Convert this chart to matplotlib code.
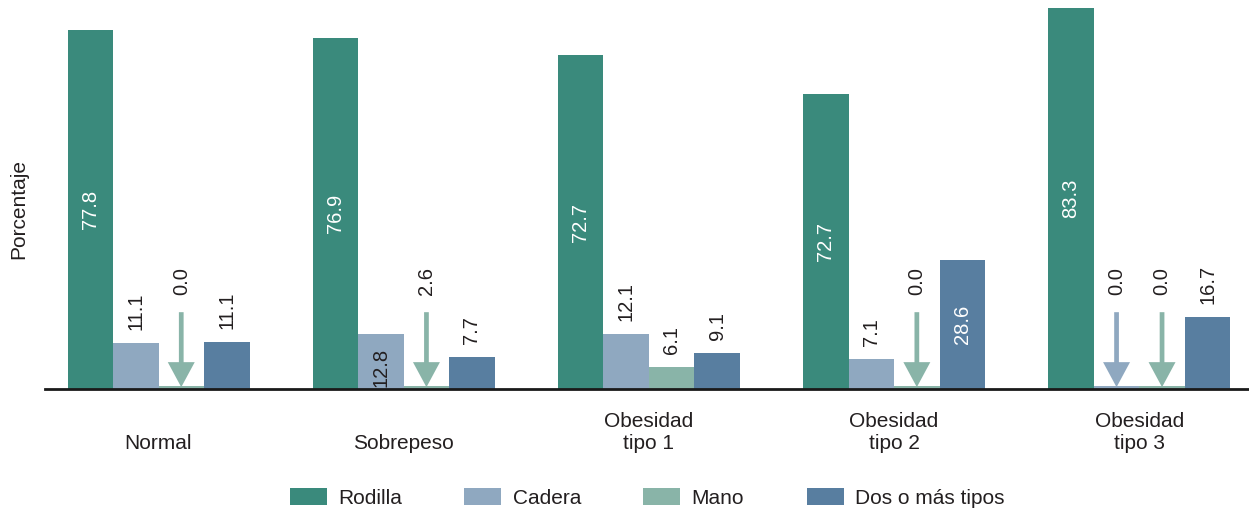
import matplotlib
matplotlib.use('Agg')
import matplotlib.pyplot as plt
from matplotlib.patches import Patch, FancyArrowPatch
import numpy as np

plt.rcParams['font.family'] = ['Liberation Sans', 'DejaVu Sans']

categories = ['Normal', 'Sobrepeso', 'Obesidad\ntipo 1', 'Obesidad\ntipo 2', 'Obesidad\ntipo 3']
series = ['Rodilla', 'Cadera', 'Mano', 'Dos o más tipos']

# bar heights as drawn in the picture (percent)
rodilla = [78.0, 76.3, 72.6, 64.1, 82.8]
cadera = [10.0, 12.0, 12.0, 6.5, 0.0]
mano = [0.0, 0.0, 4.8, 0.0, 0.0]
dos = [10.2, 7.0, 7.8, 28.0, 15.7]

# value labels as printed
rodilla_lbl = ['77.8', '76.9', '72.7', '72.7', '83.3']
cadera_lbl = ['11.1', '12.8', '12.1', '7.1', '0.0']
mano_lbl = ['0.0', '2.6', '6.1', '0.0', '0.0']
dos_lbl = ['11.1', '7.7', '9.1', '28.6', '16.7']

colors = ['#3a8a7c', '#8fa8c0', '#89b4a8', '#587ea0']
text_color = '#231f20'

heights = [rodilla, cadera, mano, dos]
labels = [rodilla_lbl, cadera_lbl, mano_lbl, dos_lbl]

W, H = 1249, 513
fig = plt.figure(figsize=(W / 100, H / 100), dpi=100)
px_per_unit = 4.6
base_px = 389
ax = fig.add_axes([45 / W, (H - base_px) / H, (W - 45) / W, base_px / H])
group_px = 245.2
xmin = -(158.5 - 45) / group_px
ax.set_xlim(xmin, xmin + (W - 45) / group_px)
ax.set_ylim(0, base_px / px_per_unit)
for s in ['top', 'right', 'left']:
    ax.spines[s].set_visible(False)
ax.spines['bottom'].set_linewidth(2.0)
ax.spines['bottom'].set_color('#1a1a1a')
ax.spines['bottom'].set_zorder(5)
ax.set_xticks([])
ax.set_yticks([])

x = np.arange(len(categories))
w = 45.5 / group_px
offsets = [-1.5 * w, -0.5 * w, 0.5 * w, 1.5 * w]
stub = 0.7
arrow_top = 16.7
label_gap = 2.8
vfs = 14.5

for si in range(4):
    hs = heights[si]
    drawn = [h if h >= 0.5 else stub for h in hs]
    ax.bar(x + offsets[si], drawn, w, color=colors[si], zorder=2, linewidth=0)
    for gi in range(len(categories)):
        xc = x[gi] + offsets[si]
        h = hs[gi]
        lbl = labels[si][gi]
        if h < 0.5:
            arr = FancyArrowPatch((xc, arrow_top), (xc, 0.4),
                                  arrowstyle='simple,head_length=0.9,head_width=0.97,tail_width=0.17',
                                  mutation_scale=20, shrinkA=0, shrinkB=0,
                                  color=colors[si], lw=0, zorder=3)
            ax.add_patch(arr)
            ax.text(xc, arrow_top + 3.8, lbl, rotation=90, ha='center', va='bottom',
                    fontsize=vfs, color=text_color)
        elif si == 0 or h > 20:
            ax.text(xc, h / 2, lbl, rotation=90, ha='center', va='center',
                    fontsize=vfs, color='white', zorder=4)
        elif si == 1 and gi == 1:
            ax.text(xc, 4.6, lbl, rotation=90, ha='center', va='center',
                    fontsize=vfs, color=text_color, zorder=4)
        else:
            ax.text(xc, h + label_gap, lbl, rotation=90, ha='center', va='bottom',
                    fontsize=vfs, color=text_color)

for gi, cat in enumerate(categories):
    ax.text(x[gi], -13.9, cat, ha='center', va='bottom', fontsize=15,
            color=text_color, linespacing=1.2, clip_on=False)

fig.text(19 / W, 1 - 209 / H, 'Porcentaje', rotation=90, ha='center', va='center',
         fontsize=15, color=text_color)

handles = [Patch(facecolor=c, edgecolor='none') for c in colors]
leg = fig.legend(handles, series, loc='center', bbox_to_anchor=(647 / W, 1 - 498 / H),
                 ncol=4, frameon=False, fontsize=15, handlelength=1.78, handleheight=0.91,
                 handletextpad=0.53, columnspacing=3.0, borderaxespad=0, borderpad=0)
for t in leg.get_texts():
    t.set_color(text_color)

fig.savefig('out.png', dpi=100)
